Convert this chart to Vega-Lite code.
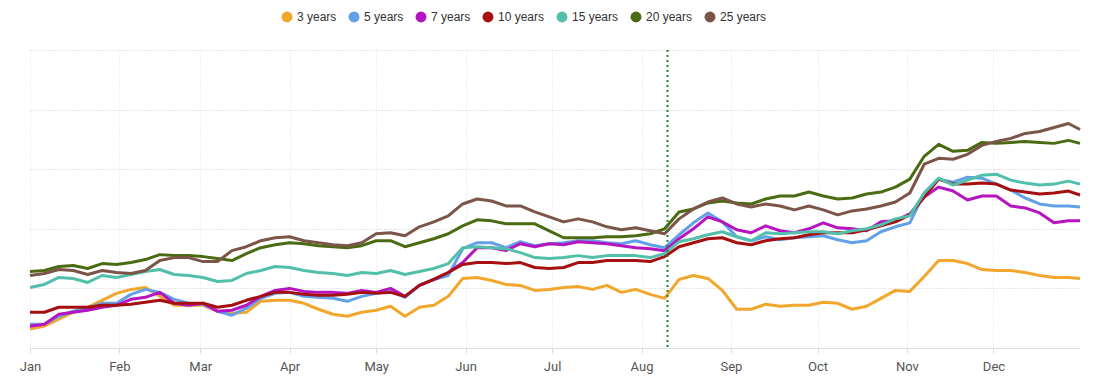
{
  "$schema": "https://vega.github.io/schema/vega-lite/v6.json",
  "width": 1050,
  "height": 298,
  "autosize": {"type": "none"},
  "padding": {"left": 30, "top": 50, "right": 21, "bottom": 38},
  "background": "white",
  "config": {"view": {"stroke": null}, "font": "Liberation Sans"},
  "layer": [
    {
      "data": {"values": [
        {"date":"2023-01-01","3 years":19,"5 years":24,"7 years":22,"10 years":36,"15 years":61,"20 years":77,"25 years":73},
        {"date":"2023-01-06","3 years":22,"5 years":24,"7 years":24,"10 years":36,"15 years":64,"20 years":78,"25 years":75},
        {"date":"2023-01-11","3 years":29,"5 years":32,"7 years":34,"10 years":41,"15 years":71,"20 years":82,"25 years":79},
        {"date":"2023-01-16","3 years":36,"5 years":37,"7 years":36,"10 years":41,"15 years":70,"20 years":83,"25 years":78},
        {"date":"2023-01-21","3 years":41,"5 years":40,"7 years":38,"10 years":41,"15 years":66,"20 years":80,"25 years":74},
        {"date":"2023-01-26","3 years":48,"5 years":45,"7 years":41,"10 years":43,"15 years":73,"20 years":85,"25 years":78},
        {"date":"2023-01-31","3 years":55,"5 years":45,"7 years":43,"10 years":43,"15 years":71,"20 years":84,"25 years":76},
        {"date":"2023-02-05","3 years":59,"5 years":54,"7 years":49,"10 years":44,"15 years":74,"20 years":86,"25 years":75},
        {"date":"2023-02-10","3 years":61,"5 years":59,"7 years":51,"10 years":46,"15 years":77,"20 years":89,"25 years":78},
        {"date":"2023-02-15","3 years":52,"5 years":56,"7 years":56,"10 years":48,"15 years":79,"20 years":94,"25 years":88},
        {"date":"2023-02-20","3 years":43,"5 years":49,"7 years":45,"10 years":45,"15 years":74,"20 years":93,"25 years":91},
        {"date":"2023-02-25","3 years":43,"5 years":45,"7 years":43,"10 years":45,"15 years":73,"20 years":93,"25 years":91},
        {"date":"2023-03-02","3 years":43,"5 years":44,"7 years":45,"10 years":45,"15 years":71,"20 years":92,"25 years":87},
        {"date":"2023-03-07","3 years":37,"5 years":37,"7 years":37,"10 years":41,"15 years":67,"20 years":90,"25 years":87},
        {"date":"2023-03-12","3 years":35,"5 years":33,"7 years":38,"10 years":43,"15 years":68,"20 years":88,"25 years":98},
        {"date":"2023-03-17","3 years":36,"5 years":40,"7 years":43,"10 years":48,"15 years":75,"20 years":95,"25 years":102},
        {"date":"2023-03-22","3 years":47,"5 years":50,"7 years":52,"10 years":52,"15 years":78,"20 years":101,"25 years":108},
        {"date":"2023-03-27","3 years":48,"5 years":55,"7 years":58,"10 years":56,"15 years":82,"20 years":104,"25 years":111},
        {"date":"2023-04-01","3 years":48,"5 years":56,"7 years":60,"10 years":56,"15 years":81,"20 years":106,"25 years":112},
        {"date":"2023-04-06","3 years":45,"5 years":52,"7 years":57,"10 years":54,"15 years":78,"20 years":105,"25 years":108},
        {"date":"2023-04-11","3 years":39,"5 years":51,"7 years":56,"10 years":53,"15 years":76,"20 years":103,"25 years":106},
        {"date":"2023-04-16","3 years":34,"5 years":50,"7 years":56,"10 years":53,"15 years":75,"20 years":102,"25 years":104},
        {"date":"2023-04-21","3 years":32,"5 years":47,"7 years":55,"10 years":54,"15 years":73,"20 years":101,"25 years":103},
        {"date":"2023-04-26","3 years":36,"5 years":52,"7 years":58,"10 years":56,"15 years":76,"20 years":103,"25 years":106},
        {"date":"2023-05-01","3 years":38,"5 years":55,"7 years":56,"10 years":55,"15 years":75,"20 years":108,"25 years":115},
        {"date":"2023-05-06","3 years":42,"5 years":57,"7 years":60,"10 years":56,"15 years":78,"20 years":108,"25 years":116},
        {"date":"2023-05-11","3 years":32,"5 years":51,"7 years":52,"10 years":52,"15 years":74,"20 years":102,"25 years":113},
        {"date":"2023-05-16","3 years":41,"5 years":63,"7 years":63,"10 years":63,"15 years":77,"20 years":106,"25 years":122},
        {"date":"2023-05-21","3 years":43,"5 years":69,"7 years":69,"10 years":69,"15 years":80,"20 years":110,"25 years":127},
        {"date":"2023-05-26","3 years":52,"5 years":73,"7 years":76,"10 years":76,"15 years":85,"20 years":115,"25 years":133},
        {"date":"2023-05-31","3 years":70,"5 years":100,"7 years":86,"10 years":84,"15 years":101,"20 years":123,"25 years":145},
        {"date":"2023-06-05","3 years":71,"5 years":106,"7 years":101,"10 years":86,"15 years":102,"20 years":129,"25 years":150},
        {"date":"2023-06-10","3 years":68,"5 years":106,"7 years":101,"10 years":86,"15 years":101,"20 years":128,"25 years":148},
        {"date":"2023-06-15","3 years":64,"5 years":101,"7 years":98,"10 years":85,"15 years":100,"20 years":125,"25 years":143},
        {"date":"2023-06-20","3 years":63,"5 years":107,"7 years":105,"10 years":86,"15 years":96,"20 years":125,"25 years":143},
        {"date":"2023-06-25","3 years":58,"5 years":103,"7 years":102,"10 years":81,"15 years":91,"20 years":125,"25 years":137},
        {"date":"2023-06-30","3 years":59,"5 years":105,"7 years":105,"10 years":80,"15 years":90,"20 years":118,"25 years":132},
        {"date":"2023-07-05","3 years":61,"5 years":106,"7 years":104,"10 years":81,"15 years":91,"20 years":111,"25 years":127},
        {"date":"2023-07-10","3 years":62,"5 years":108,"7 years":107,"10 years":86,"15 years":93,"20 years":111,"25 years":130},
        {"date":"2023-07-15","3 years":59,"5 years":108,"7 years":106,"10 years":86,"15 years":91,"20 years":111,"25 years":127},
        {"date":"2023-07-20","3 years":63,"5 years":106,"7 years":105,"10 years":88,"15 years":93,"20 years":112,"25 years":122},
        {"date":"2023-07-25","3 years":56,"5 years":105,"7 years":103,"10 years":88,"15 years":93,"20 years":112,"25 years":119},
        {"date":"2023-07-30","3 years":59,"5 years":108,"7 years":101,"10 years":88,"15 years":93,"20 years":113,"25 years":121},
        {"date":"2023-08-04","3 years":54,"5 years":104,"7 years":100,"10 years":87,"15 years":91,"20 years":115,"25 years":118},
        {"date":"2023-08-09","3 years":50,"5 years":101,"7 years":98,"10 years":92,"15 years":95,"20 years":120,"25 years":115},
        {"date":"2023-08-14","3 years":69,"5 years":114,"7 years":110,"10 years":102,"15 years":107,"20 years":137,"25 years":130},
        {"date":"2023-08-19","3 years":73,"5 years":126,"7 years":120,"10 years":106,"15 years":110,"20 years":140,"25 years":140},
        {"date":"2023-08-24","3 years":70,"5 years":136,"7 years":132,"10 years":110,"15 years":114,"20 years":146,"25 years":147},
        {"date":"2023-08-29","3 years":58,"5 years":127,"7 years":127,"10 years":111,"15 years":117,"20 years":148,"25 years":151},
        {"date":"2023-09-03","3 years":39,"5 years":112,"7 years":119,"10 years":106,"15 years":112,"20 years":146,"25 years":145},
        {"date":"2023-09-08","3 years":39,"5 years":108,"7 years":116,"10 years":104,"15 years":108,"20 years":145,"25 years":142},
        {"date":"2023-09-13","3 years":44,"5 years":112,"7 years":123,"10 years":108,"15 years":116,"20 years":150,"25 years":145},
        {"date":"2023-09-18","3 years":42,"5 years":109,"7 years":118,"10 years":110,"15 years":115,"20 years":153,"25 years":143},
        {"date":"2023-09-23","3 years":43,"5 years":111,"7 years":116,"10 years":111,"15 years":116,"20 years":153,"25 years":139},
        {"date":"2023-09-28","3 years":43,"5 years":112,"7 years":120,"10 years":114,"15 years":117,"20 years":157,"25 years":143},
        {"date":"2023-10-03","3 years":46,"5 years":113,"7 years":126,"10 years":116,"15 years":117,"20 years":153,"25 years":139},
        {"date":"2023-10-08","3 years":45,"5 years":109,"7 years":121,"10 years":116,"15 years":115,"20 years":150,"25 years":134},
        {"date":"2023-10-13","3 years":39,"5 years":106,"7 years":120,"10 years":116,"15 years":118,"20 years":151,"25 years":138},
        {"date":"2023-10-18","3 years":42,"5 years":108,"7 years":118,"10 years":119,"15 years":120,"20 years":155,"25 years":140},
        {"date":"2023-10-23","3 years":50,"5 years":117,"7 years":127,"10 years":123,"15 years":124,"20 years":157,"25 years":143},
        {"date":"2023-10-28","3 years":58,"5 years":122,"7 years":128,"10 years":127,"15 years":130,"20 years":162,"25 years":147},
        {"date":"2023-11-02","3 years":57,"5 years":126,"7 years":135,"10 years":134,"15 years":133,"20 years":170,"25 years":156},
        {"date":"2023-11-07","3 years":72,"5 years":156,"7 years":152,"10 years":152,"15 years":156,"20 years":193,"25 years":185},
        {"date":"2023-11-12","3 years":88,"5 years":170,"7 years":162,"10 years":170,"15 years":171,"20 years":205,"25 years":191},
        {"date":"2023-11-17","3 years":88,"5 years":167,"7 years":158,"10 years":165,"15 years":164,"20 years":198,"25 years":190},
        {"date":"2023-11-22","3 years":85,"5 years":172,"7 years":149,"10 years":165,"15 years":169,"20 years":199,"25 years":195},
        {"date":"2023-11-27","3 years":79,"5 years":171,"7 years":153,"10 years":166,"15 years":174,"20 years":207,"25 years":204},
        {"date":"2023-12-02","3 years":78,"5 years":165,"7 years":153,"10 years":165,"15 years":175,"20 years":206,"25 years":208},
        {"date":"2023-12-07","3 years":78,"5 years":159,"7 years":143,"10 years":159,"15 years":169,"20 years":207,"25 years":211},
        {"date":"2023-12-12","3 years":76,"5 years":151,"7 years":141,"10 years":157,"15 years":166,"20 years":208,"25 years":216},
        {"date":"2023-12-17","3 years":73,"5 years":145,"7 years":136,"10 years":155,"15 years":164,"20 years":207,"25 years":218},
        {"date":"2023-12-22","3 years":71,"5 years":143,"7 years":126,"10 years":156,"15 years":165,"20 years":206,"25 years":222},
        {"date":"2023-12-27","3 years":71,"5 years":143,"7 years":128,"10 years":158,"15 years":168,"20 years":209,"25 years":226},
        {"date":"2023-12-31","3 years":70,"5 years":142,"7 years":128,"10 years":154,"15 years":165,"20 years":206,"25 years":220}
      ]},
      "transform": [
        {"fold": ["3 years","5 years","7 years","10 years","15 years","20 years","25 years"], "as": ["series","value"]}
      ],
      "mark": {"type": "line", "strokeWidth": 3, "strokeJoin": "round"},
      "encoding": {
        "x": {
          "field": "date", "type": "temporal",
          "scale": {"type": "utc", "nice": false,
            "domain": [{"year":2023,"month":1,"date":1,"utc":true},{"year":2023,"month":12,"date":31,"utc":true}]},
          "axis": {
            "title": null, "format": "%b",
            "tickCount": {"interval": "month", "step": 1},
            "labelFlush": false, "labelOverlap": false,
            "labelFont": "Roboto", "labelFontSize": 13, "labelColor": "#555",
            "labelPadding": 7, "tickSize": 5, "tickColor": "#dcdcdc",
            "domainColor": "#dcdcdc", "grid": true, "gridColor": "#e2e2e2", "gridDash": [1, 2]
          }
        },
        "y": {
          "field": "value", "type": "quantitative",
          "scale": {"domain": [0, 300], "nice": false},
          "axis": {
            "title": null, "labels": false, "ticks": false, "domain": false,
            "values": [0, 60, 120, 180, 240, 300],
            "grid": true, "gridColor": "#cfcfcf", "gridDash": [1, 2]
          }
        },
        "color": {
          "field": "series", "type": "nominal",
          "sort": ["3 years","5 years","7 years","10 years","15 years","20 years","25 years"],
          "scale": {
            "domain": ["3 years","5 years","7 years","10 years","15 years","20 years","25 years"],
            "range": ["#F2A62B","#62A0E8","#B514C0","#A50F0F","#52BFAA","#4B6B12","#7A5548"]
          },
          "legend": {
            "title": null, "orient": "none", "legendX": 251, "legendY": -39,
            "direction": "horizontal", "padding": 0,
            "symbolType": "circle", "symbolSize": 120, "symbolStrokeWidth": 0,
            "labelFont": "Liberation Sans", "labelFontSize": 12, "labelColor": "#333",
            "labelOffset": 4, "columnPadding": 11,
            "encode": {"symbols": {"update": {"fill": {"scale": "color", "field": "value"}, "strokeWidth": {"value": 0}, "opacity": {"value": 1}}}}
          }
        }
      }
    },
    {
      "data": {"values": [{"date": "2023-08-10"}]},
      "mark": {"type": "rule", "color": "#17852a", "strokeWidth": 2, "strokeDash": [2, 3]},
      "encoding": {"x": {"field": "date", "type": "temporal"}}
    }
  ]
}
